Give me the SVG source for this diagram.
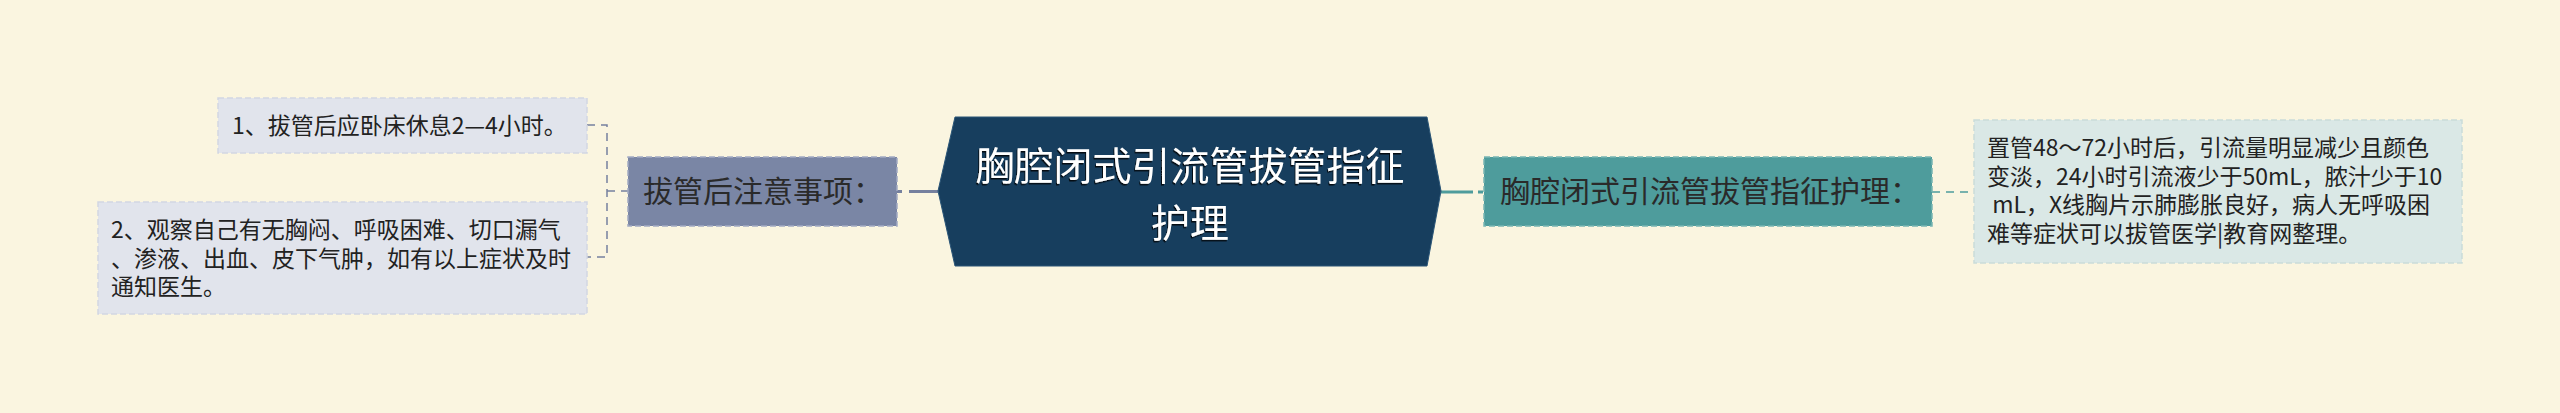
<svg xmlns="http://www.w3.org/2000/svg" width="2560" height="413" viewBox="0 0 2560 413">
<defs>
<style>
.bg{fill:#faf5e0}
.leafL{fill:#e1e4ec;stroke:#d2d6e2;stroke-width:1.5;stroke-dasharray:6 3}
.leafR{fill:#dae8e6;stroke:#cadcd9;stroke-width:1.5;stroke-dasharray:6 3}
.parL{fill:#7a86a5;stroke:#a3abc2;stroke-width:1.5;stroke-dasharray:6 3}
.parR{fill:#4e9c9c;stroke:#78b5b3;stroke-width:1.5;stroke-dasharray:6 3}
.center{fill:#173e5e;stroke:#2a5577;stroke-width:1}
.t{font-family:"Noto Sans CJK SC","Noto Sans",sans-serif;fill:#222}
.leaf{font-size:23px}
.par{font-size:30px;fill:#2a2a2a}
.ct{font-size:39px;fill:#ffffff;text-anchor:middle;filter:url(#sh)}
.cL{fill:none;stroke:#75809e}
.cR{fill:none;stroke:#4e9c9c}
</style>
<filter id="sh" x="-5%" y="-20%" width="110%" height="140%">
<feDropShadow dx="-1" dy="1.5" stdDeviation="0.6" flood-color="#000" flood-opacity="0.8"/>
</filter>
</defs>
<rect class="bg" x="0" y="0" width="2560" height="413"/>
<g id="connectors">
<path class="cL" d="M587,125 H607 V257 H587 M607,191 H628" stroke-width="1.5" stroke-dasharray="8 6"/>
<path class="cL" d="M897,191.5 H938" stroke-width="3" stroke-dasharray="5 7 100"/>
<path class="cR" d="M1441,192 H1484" stroke-width="3" stroke-dasharray="32 5 5 10"/>
<path class="cR" d="M1932,192 H1974" stroke-width="1.5" stroke-dasharray="8 6"/>
</g>
<g id="center">
<polygon class="center" points="938,191 955,117 1427,117 1441,191 1427,266 955,266"/>
<text class="t ct" x="1190" y="180">胸腔闭式引流管拔管指征<tspan x="1190" dy="57">护理</tspan></text>
</g>
<g id="left-parent">
<rect class="parL" x="628" y="157" width="269" height="69"/>
<text class="t par" x="643" y="202">拔管后注意事项：</text>
</g>
<g id="left-leaf-1">
<rect class="leafL" x="218" y="98" width="369" height="55"/>
<text class="t leaf" x="232" y="134">1、拔管后应卧床休息2—4小时。</text>
</g>
<g id="left-leaf-2">
<rect class="leafL" x="98" y="202" width="489" height="112"/>
<text class="t leaf" x="111" y="238">2、观察自己有无胸闷、呼吸困难、切口漏气<tspan x="111" dy="28.5">、渗液、出血、皮下气肿，如有以上症状及时</tspan><tspan x="111" dy="28.5">通知医生。</tspan></text>
</g>
<g id="right-parent">
<rect class="parR" x="1484" y="157" width="448" height="69"/>
<text class="t par" x="1500" y="202">胸腔闭式引流管拔管指征护理：</text>
</g>
<g id="right-leaf">
<rect class="leafR" x="1974" y="120" width="488" height="143"/>
<text class="t leaf" x="1987" y="156" xml:space="preserve">置管48～72小时后，引流量明显减少且颜色<tspan x="1987" dy="28.5">变淡，24小时引流液少于50mL，脓汁少于10</tspan><tspan x="1987" dy="28.5"> mL，X线胸片示肺膨胀良好，病人无呼吸困</tspan><tspan x="1987" dy="28.5">难等症状可以拔管医学|教育网整理。</tspan></text>
</g>
</svg>
